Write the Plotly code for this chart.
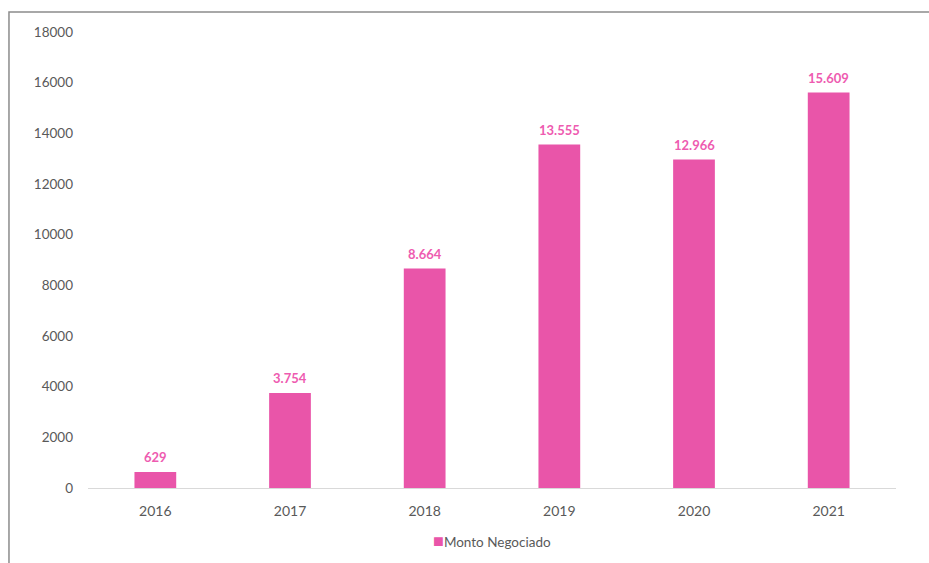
import plotly.graph_objects as go

years = ["2016", "2017", "2018", "2019", "2020", "2021"]
monto_negociado = [629, 3754, 8664, 13555, 12966, 15609]
y_ticks = [0, 2000, 4000, 6000, 8000, 10000, 12000, 14000, 16000, 18000]
series_name = "Monto Negociado"

pink = "#E955A9"
label_pink = "#EE5BB0"
grey_text = "#595959"
font_family = "Lato"


def thousands(v):
    return f"{v:,}".replace(",", ".")


fig = go.Figure()
fig.add_trace(go.Bar(
    x=years,
    y=monto_negociado,
    name=series_name,
    marker=dict(color=pink, line=dict(width=0)),
    showlegend=False,
))

# value labels above each bar (category axes take the category index)
for idx, v in enumerate(monto_negociado):
    fig.add_annotation(
        x=idx, y=v, text=thousands(v), showarrow=False,
        xanchor="center", yanchor="bottom", yshift=5,
        font=dict(color=label_pink, size=13, family=font_family, weight="bold"),
    )

# legend entry under the axis
fig.add_annotation(
    xref="paper", yref="paper", x=0.5, y=-0.113,
    xanchor="center", yanchor="middle", showarrow=False,
    text=f"<span style='color:{pink};font-size:18px'>■</span>{series_name}",
    font=dict(size=13.5, color=grey_text, family=font_family),
)

# outer frame around the chart area
fig.add_shape(
    type="rect", xref="paper", yref="paper",
    x0=-0.0978, x1=1.06, y0=-0.2, y1=1.0439,
    line=dict(color="#8C8C8C", width=1.5),
    fillcolor="rgba(0,0,0,0)", layer="below",
)

fig.update_layout(
    width=929, height=563,
    margin=dict(l=88, r=33, t=32, b=75, autoexpand=False),
    paper_bgcolor="white", plot_bgcolor="white",
    bargap=0.69,
    font=dict(family=font_family, size=13.5, color=grey_text),
    showlegend=False,
    xaxis=dict(
        type="category", categoryorder="array", categoryarray=years,
        range=[-0.5, len(years) - 0.5],
        showline=True, linecolor="#D9D9D9", linewidth=1,
        showgrid=False, ticks="", ticklabelstandoff=10, automargin=False,
        tickfont=dict(size=14, color=grey_text),
    ),
    yaxis=dict(
        range=[0, 18000], tickvals=y_ticks, tickformat="d",
        showgrid=False, zeroline=False, showline=False, automargin=False,
        ticks="", ticklabelstandoff=14,
        tickfont=dict(size=13.5, color=grey_text),
    ),
)

fig.write_html("out.html")
